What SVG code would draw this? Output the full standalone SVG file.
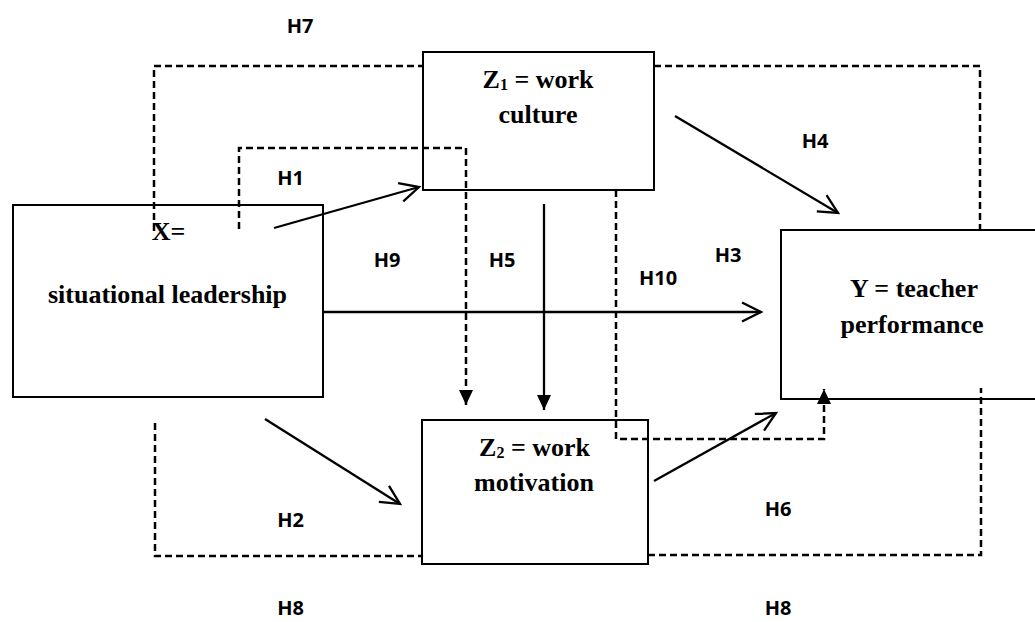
<svg xmlns="http://www.w3.org/2000/svg" width="1035" height="622" viewBox="0 0 1035 622">
<style>
.box{fill:none;stroke:#000;stroke-width:2}
.node{font-family:"Liberation Serif","Times New Roman",serif;font-weight:bold;font-size:26px;fill:#000;text-anchor:middle}
.sub{font-size:16px}
.lbl{font-family:"Open Sans","Liberation Sans",sans-serif;font-weight:bold;font-size:20px;fill:#000;text-anchor:middle}
.solid{fill:none;stroke:#000;stroke-width:2.3}
.dash{fill:none;stroke:#000;stroke-width:2.5;stroke-dasharray:7 4}
</style>
<defs>
<marker id="open" markerUnits="userSpaceOnUse" markerWidth="24" markerHeight="24" viewBox="0 0 24 24" refX="21" refY="12" orient="auto">
<path d="M2,2.5 L21,12 L2,21.5" fill="none" stroke="#000" stroke-width="2.3"/>
</marker>
<marker id="fill" markerUnits="userSpaceOnUse" markerWidth="16" markerHeight="16" viewBox="0 0 16 16" refX="15" refY="7.5" orient="auto">
<path d="M0,0.5 L15,7.5 L0,14.5 z" fill="#000"/>
</marker>
</defs>
<rect width="1035" height="622" fill="#fff"/>
<g id="node-x">
<rect class="box" x="13" y="205" width="310" height="192"/>
<text class="node" x="168.5" y="240">X=</text>
<text class="node" x="167.5" y="303">situational leadership</text>
</g>
<g id="node-z1">
<rect class="box" x="423" y="52" width="231" height="138"/>
<text class="node" x="538" y="88">Z<tspan class="sub" dy="2">1</tspan><tspan dy="-2"> = work</tspan></text>
<text class="node" x="538" y="123">culture</text>
</g>
<g id="node-z2">
<rect class="box" x="422" y="420" width="226" height="144"/>
<text class="node" x="534.5" y="456">Z<tspan class="sub" dy="2">2</tspan><tspan dy="-2"> = work</tspan></text>
<text class="node" x="534" y="491">motivation</text>
</g>
<g id="node-y">
<rect class="box" x="781" y="230" width="270" height="169"/>
<text class="node" x="914" y="297">Y = teacher</text>
<text class="node" x="912" y="333">performance</text>
</g>
<g id="connectors">
<line class="solid" x1="274" y1="228" x2="419" y2="187" marker-end="url(#open)"/>
<line class="solid" x1="265" y1="419" x2="400" y2="504" marker-end="url(#open)"/>
<line class="solid" x1="323" y1="312" x2="761" y2="312" marker-end="url(#open)"/>
<line class="solid" x1="675" y1="116" x2="838" y2="213" marker-end="url(#open)"/>
<line class="solid" x1="544" y1="204" x2="544" y2="410" marker-end="url(#fill)"/>
<line class="solid" x1="654" y1="481" x2="776" y2="413" marker-end="url(#open)"/>
<path class="dash" d="M154,231 V66 H423"/>
<path class="dash" d="M654,66 H980 V230"/>
<path class="dash" d="M155,423 V556 H422"/>
<path class="dash" d="M648,555 H981 V388"/>
<path class="dash" d="M239,229 V148 H466 V405" marker-end="url(#fill)"/>
<path class="dash" d="M616,190 V439 H824 V389" marker-end="url(#fill)"/>
</g>
<g id="labels">
<text class="lbl" x="300" y="33">H7</text>
<text class="lbl" x="290.5" y="185">H1</text>
<text class="lbl" x="387" y="267">H9</text>
<text class="lbl" x="502" y="267">H5</text>
<text class="lbl" x="815" y="148">H4</text>
<text class="lbl" x="728" y="262">H3</text>
<text class="lbl" x="658" y="285">H10</text>
<text class="lbl" x="290.5" y="527">H2</text>
<text class="lbl" x="778" y="516">H6</text>
<text class="lbl" x="290.5" y="615">H8</text>
<text class="lbl" x="778" y="615">H8</text>
</g>
</svg>
